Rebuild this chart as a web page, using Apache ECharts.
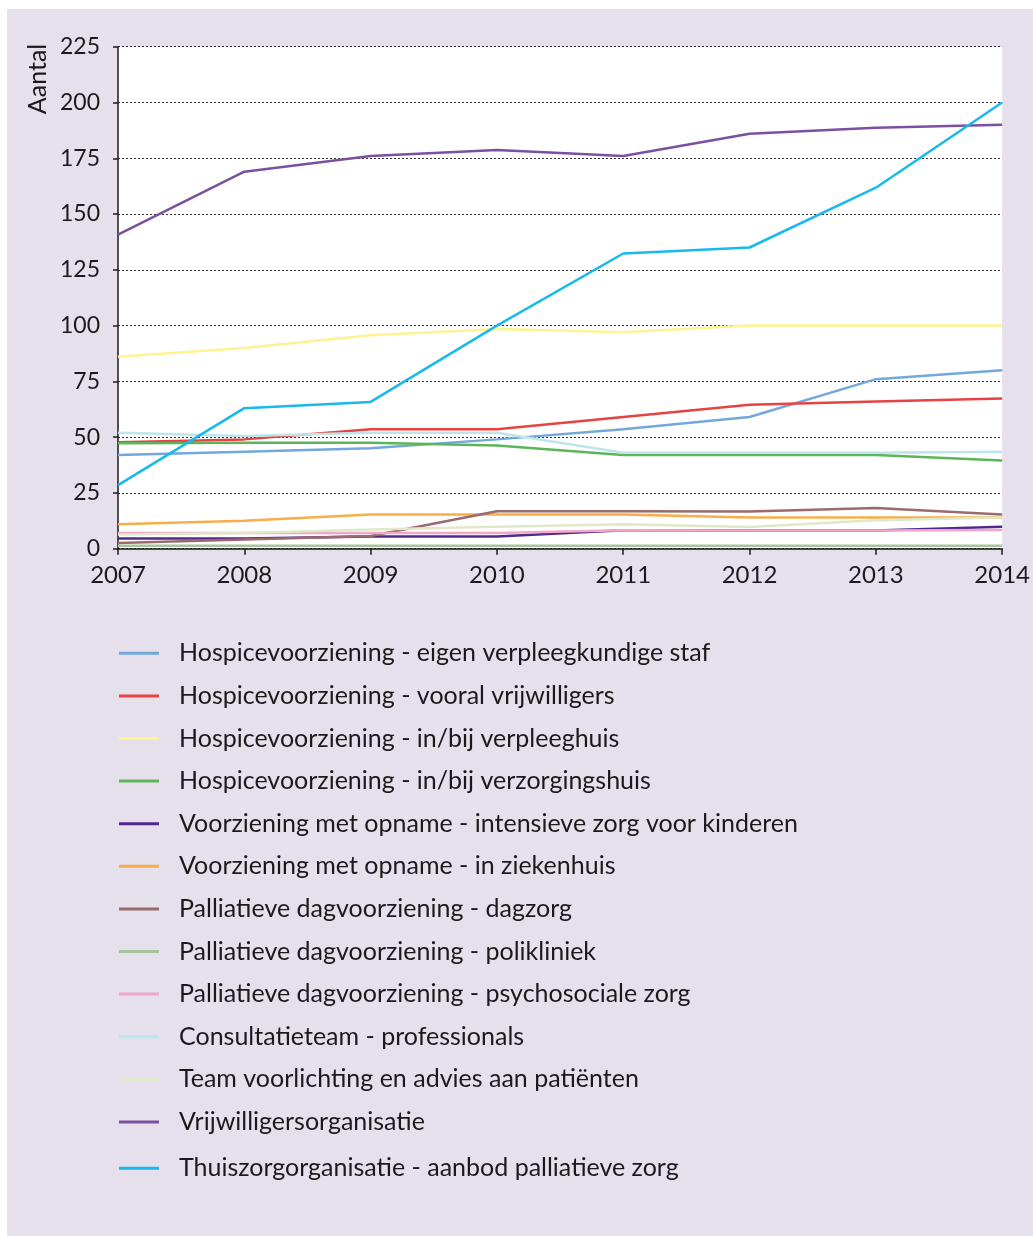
<!DOCTYPE html>
<html>
<head>
<meta charset="utf-8">
<script src="https://cdn.jsdelivr.net/npm/echarts@6/dist/echarts.min.js"></script>
<style>
html,body{margin:0;padding:0;background:#fff;}
#wrap{position:absolute;left:7px;top:9px;right:0;bottom:0;background:#e5e0ec;}
#c{position:absolute;left:0;top:0;width:1033px;height:1236px;}
</style>
</head>
<body>
<div id="wrap"></div>
<div id="c"></div>
<script>
const years = ['2007','2008','2009','2010','2011','2012','2013','2014'];
const yTicks = [0, 25, 50, 75, 100, 125, 150, 175, 200, 225];
const names = [
  'Hospicevoorziening - eigen verpleegkundige staf',
  'Hospicevoorziening - vooral vrijwilligers',
  'Hospicevoorziening - in/bij verpleeghuis',
  'Hospicevoorziening - in/bij verzorgingshuis',
  'Voorziening met opname - intensieve zorg voor kinderen',
  'Voorziening met opname - in ziekenhuis',
  'Palliatieve dagvoorziening - dagzorg',
  'Palliatieve dagvoorziening - polikliniek',
  'Palliatieve dagvoorziening - psychosociale zorg',
  'Consultatieteam - professionals',
  'Team voorlichting en advies aan patiënten',
  'Vrijwilligersorganisatie',
  'Thuiszorgorganisatie - aanbod palliatieve zorg'
];
const colors = ['#72a8dc','#e84343','#fff290','#5db55a','#4f2a8c','#f7ad4a','#9b6a6c','#a9c49c','#f4a6c9','#bde5ec','#dde9c8','#7d4f9f','#17b9ee'];

const hospiceEigen      = [42, 43.5, 45, 49, 53.5, 59, 76, 80];
const hospiceVrijw      = [47.7, 49, 53.5, 53.5, 59, 64.5, 66, 67.3];
const hospiceVerpleeg   = [86, 90, 95.7, 98.5, 97, 100, 100, 100];
const hospiceVerzorg    = [47.3, 47.5, 47.5, 46.3, 42, 42, 42, 39.5];
const intensiefKind     = [4.6, 4.6, 5.5, 5.5, 8.3, 8.2, 8.2, 9.8];
const ziekenhuis        = [11, 12.5, 15.3, 15.3, 15.3, 14, 14, 14];
const dagzorg           = [2.6, 4.1, 5.7, 16.8, 16.8, 16.7, 18.2, 15.3];
const polikliniek       = [1.3, 1.3, 1.3, 1.3, 1.3, 1.3, 1.3, 1.3];
const psychosociaal     = [7, 7, 7, 7, 8.3, 8.2, 8.2, 8.4];
const consultatieteam   = [52, 50.5, 52, 52, 43, 43, 43, 43.5];
const teamVoorlichting  = [6.4, 7, 8.6, 9.8, 11, 9.7, 12.7, 14];
const vrijwilligersOrg  = [140.8, 169, 176, 178.7, 176, 186, 188.7, 190];
const thuiszorg         = [28.5, 63, 65.8, 100, 132.3, 135, 161.8, 200];

const seriesData = [hospiceEigen, hospiceVrijw, hospiceVerpleeg, hospiceVerzorg, intensiefKind, ziekenhuis, dagzorg, polikliniek, psychosociaal, consultatieteam, teamVoorlichting, vrijwilligersOrg, thuiszorg];

const FONT = 'Lato';
const chart = echarts.init(document.getElementById('c'), null, {renderer:'canvas'});
const legendText = {fontFamily: FONT, fontSize: 25, color: '#1a1a1a', padding: [0,0,0,15], lineHeight: 42.6};
chart.setOption({
  animation: false,
  backgroundColor: 'transparent',
  textStyle: {fontFamily: FONT},
  grid: {left: 118, right: 28, top: 46.7, bottom: 1236 - 548.7, show: true, backgroundColor: '#ffffff', borderWidth: 0},
  graphic: [{
    type: 'text', x: 38, y: 79, rotation: Math.PI / 2,
    style: {text: 'Aantal', font: '25px ' + FONT, fill: '#1a1a1a', textAlign: 'center', textVerticalAlign: 'middle'}
  }],
  legend: [{
    orient: 'vertical', left: 119, top: 632, padding: 0, itemGap: 0, itemWidth: 40, itemHeight: 3, icon: 'rect',
    data: names.slice(0, 12), textStyle: legendText, selectedMode: false
  }, {
    orient: 'vertical', left: 119, top: 1147, padding: 0, itemGap: 0, itemWidth: 40, itemHeight: 3, icon: 'rect',
    data: names.slice(12), textStyle: legendText, selectedMode: false
  }],
  xAxis: {
    type: 'category', data: years, boundaryGap: false,
    axisLine: {lineStyle: {color: '#1a1a1a', width: 1.5}},
    axisTick: {show: true, length: 6, lineStyle: {color: '#1a1a1a', width: 1.5}, alignWithLabel: true},
    axisLabel: {fontFamily: FONT, fontSize: 24, color: '#1a1a1a', margin: 15, showMaxLabel: true},
    splitLine: {show: false}
  },
  yAxis: {
    type: 'value', min: 0, max: 225, interval: 25,
    axisLine: {show: true, lineStyle: {color: '#1a1a1a', width: 1.5}},
    axisTick: {show: true, length: 5, lineStyle: {color: '#1a1a1a', width: 1.5}},
    axisLabel: {fontFamily: FONT, fontSize: 23, color: '#1a1a1a', margin: 18,
      formatter: v => yTicks.includes(v) ? String(v) : ''},
    splitLine: {show: true, lineStyle: {color: '#333', width: 1, type: [2, 2]}}
  },
  series: names.map((n, i) => ({
    name: n, type: 'line', data: seriesData[i], symbol: 'none', smooth: false,
    lineStyle: {color: colors[i], width: 2.5}, itemStyle: {color: colors[i]},
    emphasis: {disabled: true}
  }))
});
</script>
</body>
</html>
